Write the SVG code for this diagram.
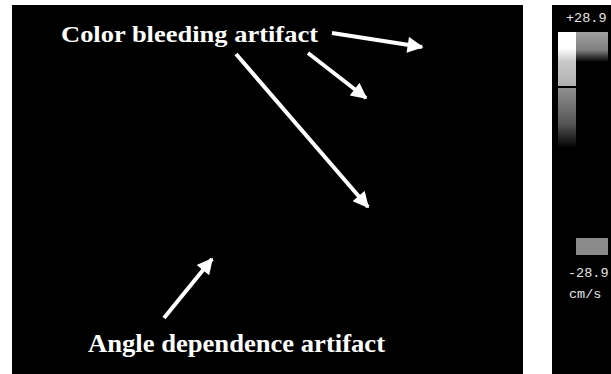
<svg xmlns="http://www.w3.org/2000/svg" width="611" height="374" viewBox="0 0 611 374">
  <defs>
    <style>
      .lbl { font-family: "Liberation Serif", "Times New Roman", serif; font-weight: bold; fill: #ffffff; }
      .scale { font-family: "Liberation Mono", "DejaVu Sans Mono", monospace; fill: #e6e6e6; font-size: 13.5px; }
      .arrow { stroke: #ffffff; stroke-width: 4; fill: none; }
    </style>
    <marker id="ah" viewBox="0 0 10 10" refX="9" refY="5" markerWidth="4.5" markerHeight="4" markerUnits="strokeWidth" orient="auto">
      <path d="M0,0 L10,5 L0,10 Z" fill="#ffffff"/>
    </marker>
    <linearGradient id="gWhite" x1="0" y1="0" x2="0" y2="1">
      <stop offset="0" stop-color="#ffffff"/>
      <stop offset="0.3" stop-color="#ffffff"/>
      <stop offset="0.55" stop-color="#c8c8c8"/>
      <stop offset="1" stop-color="#b0b0b0"/>
    </linearGradient>
    <linearGradient id="gGreyTop" x1="0" y1="0" x2="0" y2="1">
      <stop offset="0" stop-color="#a0a0a0"/>
      <stop offset="0.6" stop-color="#808080"/>
      <stop offset="1" stop-color="#000000"/>
    </linearGradient>
    <linearGradient id="gGreyCol" x1="0" y1="0" x2="0" y2="1">
      <stop offset="0" stop-color="#909090"/>
      <stop offset="0.6" stop-color="#555555"/>
      <stop offset="1" stop-color="#000000"/>
    </linearGradient>
  </defs>
  <rect x="0" y="0" width="611" height="374" fill="#ffffff"/>

  <g id="image-panel">
    <rect x="12" y="5" width="511" height="369" fill="#000000"/>
  </g>

  <g id="color-scale">
    <rect x="552" y="5" width="59" height="369" fill="#000000"/>
    <text class="scale" x="566" y="22">+28.9</text>
    <rect x="558" y="32" width="18" height="54" fill="url(#gWhite)"/>
    <rect x="576" y="32" width="32" height="30" fill="url(#gGreyTop)"/>
    <rect x="558" y="88" width="18" height="60" fill="url(#gGreyCol)"/>
    <rect x="576" y="238" width="32" height="17" fill="#8a8a8a"/>
    <text class="scale" x="568" y="277">-28.9</text>
    <text class="scale" x="569" y="298">cm/s</text>
  </g>

  <g id="label-color-bleeding">
    <text class="lbl" x="61" y="42" font-size="24" textLength="257" lengthAdjust="spacingAndGlyphs">Color bleeding artifact</text>
  </g>

  <g id="label-angle-dependence">
    <text class="lbl" x="88" y="352" font-size="25" textLength="297" lengthAdjust="spacingAndGlyphs">Angle dependence artifact</text>
  </g>

  <g id="connectors">
    <line class="arrow" x1="332" y1="33" x2="422" y2="47" marker-end="url(#ah)"/>
    <line class="arrow" x1="308" y1="53" x2="366" y2="98" marker-end="url(#ah)"/>
    <line class="arrow" x1="236" y1="54" x2="368" y2="207" marker-end="url(#ah)"/>
    <line class="arrow" x1="164" y1="318" x2="212" y2="259" marker-end="url(#ah)"/>
  </g>
</svg>
